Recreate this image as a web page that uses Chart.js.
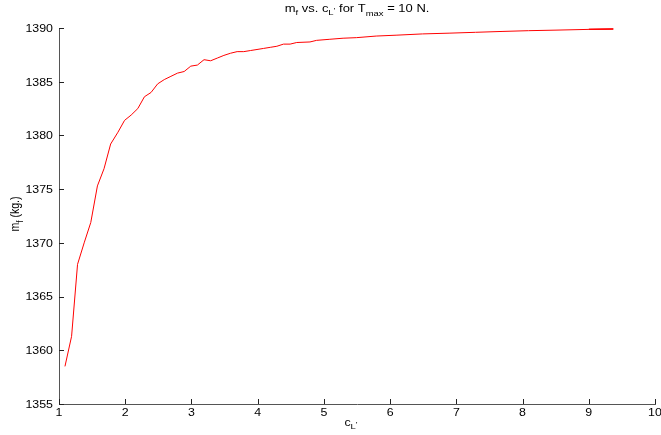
<!DOCTYPE html>
<html>
<head>
<meta charset="utf-8">
<script src="https://cdn.jsdelivr.net/npm/chart.js@4.4.1/dist/chart.umd.min.js"></script>
<style>
  body { margin: 0; background: #fff; }
  #wrap { width: 661px; height: 435px; position: relative; }
</style>
</head>
<body>
<div id="wrap"><canvas id="plot"></canvas></div>
<script>
// values
var cL = [1.09, 1.19, 1.28, 1.38, 1.48, 1.58, 1.68, 1.78, 1.89, 1.99,
          2.09, 2.19, 2.29, 2.39, 2.49, 2.59, 2.69, 2.79, 2.89, 2.99,
          3.09, 3.19, 3.29, 3.39, 3.49, 3.59, 3.69, 3.79, 3.89, 3.99,
          4.09, 4.19, 4.29, 4.39, 4.49, 4.59, 4.79, 4.89, 5.09, 5.29,
          5.49, 5.79, 6.09, 6.49, 6.89, 7.29, 7.69, 8.09, 8.49, 8.99,
          9.37, 9.0, 9.37];
var mf = [1358.5, 1361.3, 1368.0, 1370.0, 1371.9, 1375.3, 1376.9, 1379.2, 1380.3, 1381.4,
          1381.9, 1382.5, 1383.6, 1384.0, 1384.8, 1385.2, 1385.5, 1385.8, 1385.95, 1386.45,
          1386.55, 1387.05, 1386.95, 1387.2, 1387.45, 1387.65, 1387.8, 1387.8, 1387.9, 1388.0,
          1388.1, 1388.2, 1388.3, 1388.5, 1388.5, 1388.65, 1388.7, 1388.85, 1388.95, 1389.05,
          1389.1, 1389.25, 1389.33, 1389.45, 1389.52, 1389.6, 1389.68, 1389.75, 1389.8, 1389.87,
          1389.9, 1389.88, 1389.92];
var xTicks = [1, 2, 3, 4, 5, 6, 7, 8, 9, 10];
var yTicks = [1355, 1360, 1365, 1370, 1375, 1380, 1385, 1390];

var FONT = '"Liberation Sans", Arial, Helvetica, sans-serif';
var SX = 1.18; // the picture is stretched sideways

function drawRich(ctx, parts, x, y, align, sx) {
    var w = 0;
    for (var i = 0; i < parts.length; i++) {
        ctx.font = parts[i].size + 'px ' + FONT;
        parts[i].w = ctx.measureText(parts[i].t).width;
        w += parts[i].w;
    }
    var x0 = x;
    if (align === 'center') x0 = x - w * sx / 2;
    else if (align === 'right') x0 = x - w * sx;
    ctx.save();
    ctx.translate(x0, y);
    ctx.scale(sx, 1);
    ctx.textBaseline = 'alphabetic';
    ctx.textAlign = 'left';
    ctx.fillStyle = '#000';
    var cx = 0;
    for (var j = 0; j < parts.length; j++) {
        ctx.font = parts[j].size + 'px ' + FONT;
        ctx.fillText(parts[j].t, cx, parts[j].dy || 0);
        cx += parts[j].w;
    }
    ctx.restore();
}

var matlabAxes = {
    id: 'matlabAxes',
    afterDraw: function(chart) {
        var ctx = chart.ctx;
        var xs = chart.scales.x, ys = chart.scales.y;
        var area = chart.chartArea;

        // inward tick marks
        ctx.save();
        ctx.strokeStyle = '#222';
        ctx.lineWidth = 1;
        ctx.beginPath();
        for (var i = 0; i < xTicks.length; i++) {
            var px = Math.round(xs.getPixelForValue(xTicks[i])) + 0.5;
            ctx.moveTo(px, area.bottom);
            ctx.lineTo(px, area.bottom - 5);
        }
        for (var k = 0; k < yTicks.length; k++) {
            var py = Math.round(ys.getPixelForValue(yTicks[k])) + 0.5;
            ctx.moveTo(area.left, py);
            ctx.lineTo(area.left + 5, py);
        }
        ctx.stroke();
        ctx.restore();

        // tick labels
        for (var a = 0; a < xTicks.length; a++) {
            drawRich(ctx, [{t: String(xTicks[a]), size: 10.5}],
                     xs.getPixelForValue(xTicks[a]), area.bottom + 12, 'center', SX);
        }
        for (var b = 0; b < yTicks.length; b++) {
            drawRich(ctx, [{t: String(yTicks[b]), size: 10.5}],
                     area.left - 6, ys.getPixelForValue(yTicks[b]) + 3.8, 'right', SX);
        }

        // title
        drawRich(ctx, [
            {t: 'm', size: 11},
            {t: 'f', size: 8, dy: 3},
            {t: ' vs. c', size: 11},
            {t: 'L', size: 8, dy: 3},
            {t: '\'', size: 8, dy: 1},
            {t: ' for T', size: 11},
            {t: 'max', size: 8, dy: 4},
            {t: ' = 10 N.', size: 11}
        ], (area.left + area.right) / 2, 12, 'center', SX);

        // x axis label
        drawRich(ctx, [
            {t: 'c', size: 10.5},
            {t: 'L', size: 8, dy: 3},
            {t: '\'', size: 8, dy: 1}
        ], (area.left + area.right) / 2 - 6, 426, 'center', SX);

        // y axis label, rotated
        ctx.save();
        ctx.translate(19, (area.top + area.bottom) / 2 - 2);
        ctx.rotate(-Math.PI / 2);
        ctx.scale(1, SX);
        drawRich(ctx, [
            {t: 'm', size: 10.5},
            {t: 'f', size: 8, dy: 3},
            {t: ' (kg.)', size: 10.5}
        ], 0, 0, 'center', 1);
        ctx.restore();
    }
};

var points = [];
for (var i = 0; i < cL.length; i++) {
    points.push({x: cL[i], y: mf[i]});
}

var ctx = document.getElementById('plot').getContext('2d');
var chart = new Chart(ctx, {
    type: 'scatter',
    data: {
        datasets: [{
            data: points,
            showLine: true,
            borderColor: '#ff0000',
            backgroundColor: '#ff0000',
            borderWidth: 1,
            pointRadius: 0,
            tension: 0
        }]
    },
    options: {
        responsive: true,
        maintainAspectRatio: false,
        animation: false,
        events: [],
        layout: { padding: { left: 0, top: 28, right: 6, bottom: 0 } },
        plugins: {
            legend: { display: false },
            tooltip: { enabled: false },
            title: { display: false }
        },
        scales: {
            x: {
                type: 'linear',
                min: 1,
                max: 10,
                ticks: { display: false, stepSize: 1 },
                grid: { display: false, drawTicks: false },
                border: { display: true, color: '#555', width: 1 },
                afterFit: function(scale) {
                    scale.height = 31;
                    scale.paddingLeft = 0;
                    scale.paddingRight = 0;
                }
            },
            y: {
                type: 'linear',
                min: 1355,
                max: 1390,
                ticks: { display: false, stepSize: 5 },
                grid: { display: false, drawTicks: false },
                border: { display: true, color: '#555', width: 1 },
                afterFit: function(scale) {
                    scale.width = 59;
                    scale.paddingTop = 0;
                    scale.paddingBottom = 0;
                }
            }
        }
    },
    plugins: [matlabAxes]
});
</script>
</body>
</html>
